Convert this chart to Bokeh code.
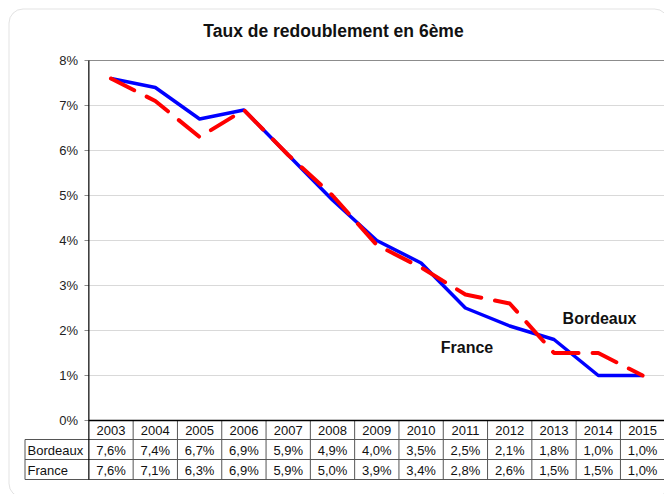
from bokeh.plotting import figure
from bokeh.models import Range1d, BoxAnnotation
from bokeh.core.properties import value
from bokeh.embed import file_html
from bokeh.resources import INLINE

# ---------------- data ----------------
years = ["2003", "2004", "2005", "2006", "2007", "2008", "2009",
         "2010", "2011", "2012", "2013", "2014", "2015"]
bordeaux = [7.6, 7.4, 6.7, 6.9, 5.9, 4.9, 4.0, 3.5, 2.5, 2.1, 1.8, 1.0, 1.0]
france = [7.6, 7.1, 6.3, 6.9, 5.9, 5.0, 3.9, 3.4, 2.8, 2.6, 1.5, 1.5, 1.0]
series_names = ["Bordeaux", "France"]
y_ticks = [0, 1, 2, 3, 4, 5, 6, 7, 8]
y_tick_labels = ["0%", "1%", "2%", "3%", "4%", "5%", "6%", "7%", "8%"]
title_text = "Taux de redoublement en 6ème"

# ---------------- layout helpers (page pixel -> data) ----------------
PX_X, X0 = 44.3, 110.5      # px per category, page x of first category
PX_Y, Y0 = 45.0, 420.0      # px per 1%, page y of 0%
OFF = 0                     # page offset of the figure


def xd(px):
    return (px - X0) / PX_X


def yd(py):
    return (Y0 - py) / PX_Y


FONT = value("Liberation Sans")
W, H = 664, 494
p = figure(width=W, height=H, output_backend="svg", toolbar_location=None,
           x_range=Range1d(xd(OFF), xd(OFF + W)), y_range=Range1d(yd(OFF + H), yd(OFF)),
           min_border=0, outline_line_color=None)
p.axis.visible = False
p.grid.visible = False
p.background_fill_color = "white"
p.border_fill_color = "white"

xs = list(range(len(years)))
x_right = xd(OFF + W)
x_axis = -0.5

# rounded chart border
p.add_layout(BoxAnnotation(left=xd(8.5), right=xd(668), top=yd(8.5), bottom=yd(497),
                           fill_alpha=0, line_color="#a0a0a0", line_width=1,
                           border_radius=14, level="underlay"))

# grid lines
grid_vals = [v for v in y_ticks if v > 0]
p.segment(x0=[x_axis] * len(grid_vals), x1=[x_right] * len(grid_vals),
          y0=grid_vals, y1=grid_vals,
          line_color=["#8c8c8c" if v == max(y_ticks) else "#d9d9d9" for v in grid_vals],
          line_width=1)
# tick marks
p.segment(x0=[xd(84)] * len(y_ticks), x1=[x_axis] * len(y_ticks),
          y0=y_ticks, y1=y_ticks, line_color="#8c8c8c", line_width=1)
# tick labels
p.text(x=[xd(77.5)] * len(y_ticks), y=y_ticks, text=y_tick_labels,
       text_align="right", text_baseline="middle", text_font=FONT,
       text_font_size="13px", text_color="#222222")

# ---------------- table ----------------
tab_bottom = yd(479)
col_lines = [x_axis + k for k in range(1, len(years) + 1)]
p.segment(x0=col_lines, x1=col_lines, y0=[0] * len(col_lines), y1=[tab_bottom] * len(col_lines),
          line_color="#555555", line_width=1)
p.segment(x0=[xd(24.5)], x1=[xd(24.5)], y0=[yd(439)], y1=[tab_bottom],
          line_color="#555555", line_width=1)
h_lines = [yd(439), yd(459), yd(479)]
p.segment(x0=[xd(24.5)] * 3, x1=[x_right] * 3, y0=h_lines, y1=h_lines,
          line_color="#555555", line_width=1)

y_head = yd(429.5)
p.text(x=xs, y=[y_head] * len(xs), text=years, text_align="center", text_baseline="middle",
       text_font=FONT, text_font_size="13px", text_color="#111111")
rows = [bordeaux, france]
row_centers = [yd(449.5), yd(469.5)]
for name, vals, yc in zip(series_names, rows, row_centers):
    labels = [f"{v:.1f}%".replace(".", ",") for v in vals]
    p.text(x=xs, y=[yc] * len(xs), text=labels, text_align="center", text_baseline="middle",
           text_font=FONT, text_font_size="13px", text_color="#111111")
    p.text(x=[xd(27)], y=[yc], text=[name], text_align="left", text_baseline="middle",
           text_font=FONT, text_font_size="13px", text_color="#111111")

# axis lines (black)
p.segment(x0=[x_axis], x1=[x_axis], y0=[max(y_ticks)], y1=[tab_bottom],
          line_color="black", line_width=1.2)
p.segment(x0=[x_axis], x1=[x_right], y0=[0], y1=[0], line_color="black", line_width=1.5)

# ---------------- series ----------------
p.line(xs, bordeaux, line_color="#0000ff", line_width=3.5, line_join="round")
p.line(xs, france, line_color="#ff0000", line_width=4, line_dash="26 14",
       line_cap="round", line_join="round")

# series labels
p.text(x=[xd(599)], y=[yd(318)], text=[series_names[0]], text_align="center",
       text_baseline="middle", text_font=FONT, text_font_size="16px",
       text_font_style="bold", text_color="#111111")
p.text(x=[xd(466.5)], y=[yd(347)], text=[series_names[1]], text_align="center",
       text_baseline="middle", text_font=FONT, text_font_size="16px",
       text_font_style="bold", text_color="#111111")

# title
p.text(x=[xd(333)], y=[yd(30)], text=[title_text], text_align="center",
       text_baseline="middle", text_font=FONT, text_font_size="17.5px",
       text_font_style="bold", text_color="#111111")

open("out.html", "w").write(file_html(p, INLINE))
